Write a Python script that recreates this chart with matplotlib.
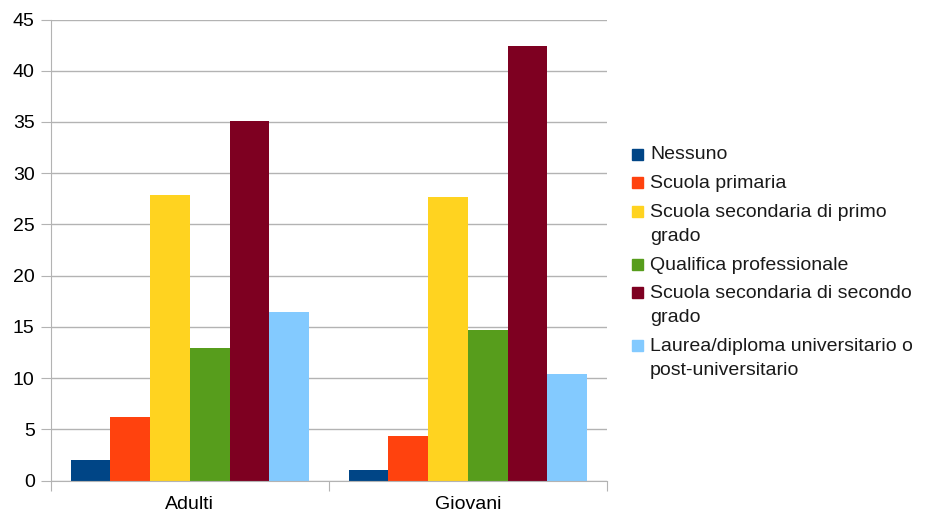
import numpy as np
import matplotlib.pyplot as plt
from matplotlib.patches import Rectangle

plt.rcParams['font.family'] = ['Liberation Sans', 'DejaVu Sans']

# Data
groups = ['Adulti', 'Giovani']
livelli = ['Nessuno', 'Scuola primaria', 'Scuola secondaria di primo\ngrado',
           'Qualifica professionale', 'Scuola secondaria di secondo\ngrado',
           'Laurea/diploma universitario o\npost-universitario']
adulti = [2.0, 6.2, 27.9, 12.9, 35.05, 16.5]
giovani = [1.03, 4.35, 27.7, 14.67, 42.42, 10.4]
colori = ['#004586', '#ff420e', '#ffd320', '#579d1c', '#7e0021', '#83caff']

values = np.array([adulti, giovani])
n = len(livelli)
width = 1.0 / (n + 1)
x = np.arange(len(groups))

fig = plt.figure(figsize=(9.26, 5.13), dpi=100)
ax = fig.add_axes([50.7 / 926, 1 - 480.7 / 513, (607 - 50.7) / 926, (480.7 - 19.5) / 513])

for i in range(n):
    ax.bar(x + (i - (n - 1) / 2) * width, values[:, i], width=width,
           color=colori[i], zorder=3)

grid_col = '#b3b3b3'
ax.set_ylim(0, 45)
ax.set_xlim(-0.5, 1.5)
ax.set_yticks(np.arange(0, 46, 5))
ax.yaxis.grid(True, color=grid_col, linewidth=1, zorder=0)
ax.tick_params(axis='y', length=7, color=grid_col, pad=4.5, labelsize=14)

# category boundaries as major ticks, names on minor ticks
ax.set_xticks([-0.5, 0.5, 1.5])
ax.set_xticklabels([])
ax.tick_params(axis='x', which='major', length=7, color=grid_col)
ax.set_xticks(x, minor=True)
ax.set_xticklabels(groups, minor=True)
ax.tick_params(axis='x', which='minor', length=0, pad=11, labelsize=14)

for s in ['top', 'right']:
    ax.spines[s].set_visible(False)
for s in ['left', 'bottom']:
    ax.spines[s].set_color(grid_col)
    ax.spines[s].set_zorder(4)

# Legend drawn line by line
W, H = 926, 513
y = 154
for lab, col in zip(livelli, colori):
    fig.patches.append(Rectangle((632 / W, 1 - (y + 5.5) / H), 11 / W, 11 / H,
                                 transform=fig.transFigure, color=col))
    for j, line in enumerate(lab.split('\n')):
        fig.text(650 / W, 1 - (y + 1 + j * 24) / H, line, fontsize=14,
                 va='center', ha='left', color='#1a1a1a')
    y += 28.7 + 24 * (lab.count('\n'))

fig.savefig('out.png', dpi=100)
